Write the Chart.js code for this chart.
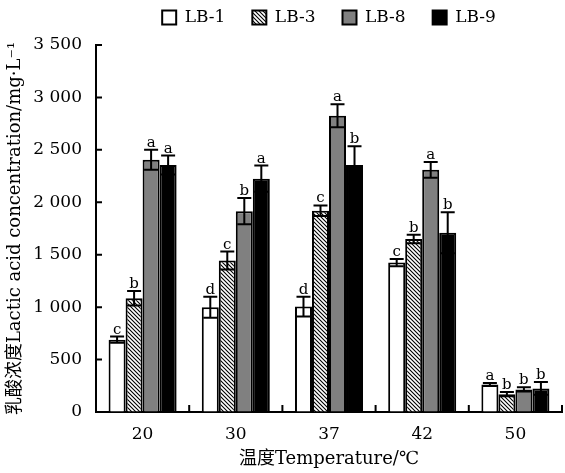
<!DOCTYPE html>
<html lang="zh">
<head>
<meta charset="UTF-8">
<title>乳酸浓度</title>
<script src="https://cdn.jsdelivr.net/npm/chart.js@4"></script>
<style>
  body { margin: 0; background: #fff; }
  #wrap { width: 565px; height: 473px; }
</style>
</head>
<body>
<div id="wrap"><canvas id="chart"></canvas></div>
<script>
// culture temperature (°C)
const temps = ['20', '30', '37', '42', '50'];

// lactic acid, mg/L, mean and SD per strain
const lb1 = [690, 1000, 1005, 1425, 262];
const lb1Err = [30, 100, 95, 35, 15];
const lb3 = [1085, 1445, 1920, 1650, 170];
const lb3Err = [70, 85, 50, 40, 20];
const lb8 = [2405, 1915, 2825, 2310, 215];
const lb8Err = [95, 125, 110, 75, 20];
const lb9 = [2355, 2225, 2355, 1710, 225];
const lb9Err = [90, 125, 180, 195, 60];

// significance letters
const lb1Sig = ['c', 'd', 'd', 'c', 'a'];
const lb3Sig = ['b', 'c', 'c', 'b', 'b'];
const lb8Sig = ['a', 'b', 'a', 'a', 'b'];
const lb9Sig = ['a', 'a', 'b', 'b', 'b'];

const FONT = "'DejaVu Serif', 'Noto Sans CJK SC', serif";

function hatch() {
  const c = document.createElement('canvas');
  c.width = c.height = 4;
  const g = c.getContext('2d');
  g.fillStyle = '#fff';
  g.fillRect(0, 0, 4, 4);
  g.strokeStyle = '#000';
  g.lineWidth = 1.1;
  g.beginPath();
  g.moveTo(-1, -1); g.lineTo(5, 5);
  g.moveTo(-1, 3); g.lineTo(1, 5);
  g.moveTo(3, -1); g.lineTo(5, 1);
  g.stroke();
  return g.createPattern(c, 'repeat');
}

const errorBars = {
  id: 'errorBars',
  afterDatasetsDraw(chart) {
    const ctx = chart.ctx;
    const y = chart.scales.y;
    ctx.save();
    ctx.strokeStyle = '#000';
    ctx.lineWidth = 2;
    ctx.fillStyle = '#000';
    ctx.font = '15px ' + FONT;
    ctx.textAlign = 'center';
    ctx.textBaseline = 'alphabetic';
    chart.data.datasets.forEach((ds, i) => {
      chart.getDatasetMeta(i).data.forEach((bar, j) => {
        const v = ds.data[j], e = ds.errors[j];
        const top = y.getPixelForValue(v + e);
        const bot = y.getPixelForValue(v - e);
        ctx.beginPath();
        ctx.moveTo(bar.x, top); ctx.lineTo(bar.x, bot);
        ctx.moveTo(bar.x - 7, top); ctx.lineTo(bar.x + 7, top);
        ctx.moveTo(bar.x - 7, bot); ctx.lineTo(bar.x + 7, bot);
        ctx.stroke();
        ctx.fillText(ds.letters[j], bar.x, top - 3);
      });
    });
    ctx.restore();
  }
};

// tick marks point into the plot
const innerTicks = {
  id: 'innerTicks',
  afterDraw(chart) {
    const { ctx, chartArea: a, scales: { x, y } } = chart;
    ctx.save();
    ctx.strokeStyle = '#000';
    ctx.lineWidth = 2;
    ctx.beginPath();
    y.ticks.forEach(t => {
      const py = y.getPixelForValue(t.value);
      ctx.moveTo(a.left, py);
      ctx.lineTo(a.left + 6, py);
    });
    for (let i = 0; i < temps.length; i++) {
      const px = x.getPixelForValue(i + 0.5);
      ctx.moveTo(px, a.bottom);
      ctx.lineTo(px, a.bottom - 7);
    }
    ctx.stroke();
    ctx.restore();
  }
};

// legend row sits higher than its box, leaving a gap above the plot
const liftLegend = {
  id: 'liftLegend',
  afterLayout(chart) {
    chart.legend.top -= 9;
    chart.legend.bottom -= 9;
  }
};

const bar = (label, data, errors, letters, fill) => ({
  label, data, errors, letters,
  backgroundColor: fill,
  borderColor: '#000',
  borderWidth: 2
});

new Chart(document.getElementById('chart'), {
  type: 'bar',
  data: {
    labels: temps,
    datasets: [
      bar('LB-1', lb1, lb1Err, lb1Sig, '#fff'),
      bar('LB-3', lb3, lb3Err, lb3Sig, hatch()),
      bar('LB-8', lb8, lb8Err, lb8Sig, '#808080'),
      bar('LB-9', lb9, lb9Err, lb9Sig, '#000')
    ]
  },
  options: {
    responsive: true,
    maintainAspectRatio: false,
    animation: false,
    layout: { padding: { top: -9, left: 2, right: 3, bottom: 0 } },
    datasets: { bar: { categoryPercentage: 0.73, barPercentage: 1 } },
    plugins: {
      tooltip: { enabled: false },
      legend: {
        position: 'top',
        fullSize: false,
        labels: {
          boxWidth: 14,
          boxHeight: 14,
          padding: 27,
          color: '#000',
          font: { family: FONT, size: 17 }
        }
      }
    },
    scales: {
      x: {
        grid: { display: true, drawOnChartArea: false, drawTicks: false },
        border: { color: '#000', width: 2 },
        ticks: { color: '#000', padding: 12, font: { family: FONT, size: 17 } },
        title: {
          display: true,
          text: '温度Temperature/℃',
          color: '#000',
          padding: { top: 0, bottom: 3 },
          font: { family: FONT, size: 18 }
        },
        afterFit(s) { s.height = 61; }
      },
      y: {
        min: 0,
        max: 3500,
        grid: { display: true, drawOnChartArea: false, drawTicks: false },
        border: { color: '#000', width: 2 },
        ticks: {
          stepSize: 500,
          color: '#000',
          padding: 14,
          font: { family: FONT, size: 17 },
          callback: v => v >= 1000 ? Math.floor(v / 1000) + ' ' + String(v % 1000).padStart(3, '0') : String(v)
        },
        title: {
          display: true,
          text: '乳酸浓度Lactic acid concentration/mg·L⁻¹',
          color: '#000',
          padding: { top: 3, bottom: 0 },
          font: { family: FONT, size: 18 }
        },
        afterFit(s) { s.width = 94; }
      }
    }
  },
  plugins: [errorBars, innerTicks, liftLegend]
});
</script>
</body>
</html>
